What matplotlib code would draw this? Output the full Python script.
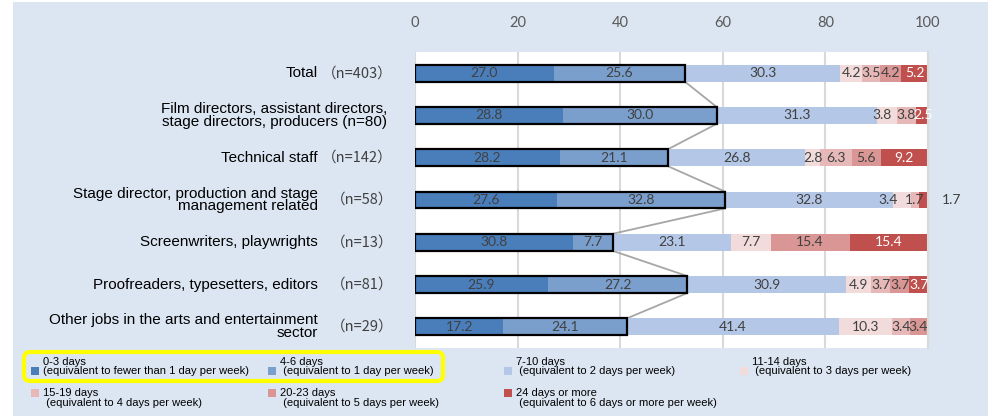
import matplotlib.pyplot as plt
from matplotlib.patches import Rectangle, FancyBboxPatch
from matplotlib.transforms import blended_transform_factory, IdentityTransform
import numpy as np

# Data (percentages per occupation group)
categories = [
    "Total",
    "Film directors, assistant directors,\nstage directors, producers (n=80)",
    "Technical staff",
    "Stage director, production and stage\nmanagement related",
    "Screenwriters, playwrights",
    "Proofreaders, typesetters, editors",
    "Other jobs in the arts and entertainment\nsector",
]
sample_sizes = ["（n=403）", "", "（n=142）", "（n=58）", "（n=13）", "（n=81）", "（n=29）"]

days_0_3 = [27.0, 28.8, 28.2, 27.6, 30.8, 25.9, 17.2]
days_4_6 = [25.6, 30.0, 21.1, 32.8, 7.7, 27.2, 24.1]
days_7_10 = [30.3, 31.3, 26.8, 32.8, 23.1, 30.9, 41.4]
days_11_14 = [4.2, 3.8, 2.8, 3.4, 7.7, 4.9, 10.3]
days_15_19 = [3.5, 3.8, 6.3, 1.7, 0.0, 3.7, 3.4]
days_20_23 = [4.2, 0.0, 5.6, 0.0, 15.4, 3.7, 3.4]
days_24_plus = [5.2, 2.5, 9.2, 1.7, 15.4, 3.7, 0.0]

series = [days_0_3, days_4_6, days_7_10, days_11_14, days_15_19, days_20_23, days_24_plus]
legend_labels = [
    "0-3 days\n(equivalent to fewer than 1 day per week)",
    "4-6 days\n (equivalent to 1 day per week)",
    "7-10 days\n (equivalent to 2 days per week)",
    "11-14 days\n (equivalent to 3 days per week)",
    "15-19 days\n (equivalent to 4 days per week)",
    "20-23 days\n (equivalent to 5 days per week)",
    "24 days or more\n (equivalent to 6 days or more per week)",
]
colors = ["#4A7EBB", "#7A9FCD", "#B4C7E7", "#F2DCDB", "#E6B9B8", "#D99694", "#C0504D"]
label_colors = ["#404040"] * 6 + ["white"]

# labels that were nudged by hand in the original (row, series) -> x shift
label_shift = {(3, 3): -2.6, (3, 6): 5.5, (1, 3): -1.0}

W, H = 988, 416
plt.rcParams['font.family'] = ['Liberation Sans Narrow', 'Liberation Sans', 'DejaVu Sans']

fig = plt.figure(figsize=(W / 100, H / 100), dpi=100, facecolor='white')
fig.patches.append(Rectangle((13 / W, 0), 1 - 13 / W, (H - 2) / H, transform=fig.transFigure,
                             facecolor='#DCE6F2', edgecolor='none', zorder=-10))

ax = fig.add_axes([415 / W, 1 - 348 / H, 513 / W, 296 / H])
ax.set_facecolor('white')

y = np.arange(len(categories))
bar_h = 0.4
left = np.zeros(len(categories))
for k, (vals, col, lc) in enumerate(zip(series, colors, label_colors)):
    vals = np.array(vals)
    ax.barh(y, vals, left=left, height=bar_h, color=col, zorder=2)
    for i, v in enumerate(vals):
        if v <= 0:
            continue
        xpos = left[i] + v / 2 + label_shift.get((i, k), 0)
        c = lc if xpos <= 100 else '#404040'
        ax.text(xpos, i, f"{v:.1f}", ha='center', va='center', fontsize=10,
                family=['Lato', 'DejaVu Sans'], color=c, zorder=4, clip_on=False)
    left = left + vals

# outline around 0-6 days and series lines
box_end = np.array(days_0_3) + np.array(days_4_6)
ax.barh(y, box_end, height=bar_h, fill=False, edgecolor='black', linewidth=1.6, zorder=3)
for i in range(len(categories) - 1):
    ax.plot([box_end[i], box_end[i + 1]], [i + bar_h / 2, i + 1 - bar_h / 2],
            color='#A6A6A6', lw=1.3, zorder=1)

ax.set_xlim(0, 100)
ax.set_ylim(len(categories) - 0.5, -0.5)
ax.set_xticks([0, 20, 40, 60, 80, 100])
ax.set_yticks([])
ax.xaxis.tick_top()
ax.tick_params(axis='x', length=0, pad=16, labelsize=10.5, labelcolor='#595959')
for t in ax.get_xticklabels():
    t.set_family(['Lato', 'DejaVu Sans'])
ax.grid(axis='x', color='#D9D9D9', lw=1.5)
ax.set_axisbelow(True)
for s in ['top', 'left', 'bottom']:
    ax.spines[s].set_visible(False)
ax.spines['right'].set_color('#D9D9D9')
ax.spines['right'].set_linewidth(1.5)

# category labels
trans = blended_transform_factory(fig.transFigure, ax.transData)
for i, (cat, n) in enumerate(zip(categories, sample_sizes)):
    if n:
        ax.text(318 / W, i, cat, transform=trans, ha='right', va='center', fontsize=11,
                multialignment='right', linespacing=0.9, clip_on=False)
        ax.text(393 / W, i, n, transform=trans, ha='right', va='center', fontsize=10.5,
                family=['Noto Sans CJK JP', 'DejaVu Sans'], color='#404040', clip_on=False)
    else:
        ax.text(387 / W, i, cat, transform=trans, ha='right', va='center', fontsize=11,
                multialignment='right', linespacing=0.9, clip_on=False)

# legend drawn by hand (4 columns, 2 rows)
col_x = [31, 268, 504, 740, 31, 268, 504]
row_text_y = [366.5, 366.5, 366.5, 366.5, 398, 398, 398]
row_sw_y = [371, 371, 371, 371, 393, 393, 393]
for lab, col, sx, ty, sy in zip(legend_labels, colors, col_x, row_text_y, row_sw_y):
    fig.patches.append(Rectangle((sx / W, 1 - (sy + 4) / H), 8 / W, 8 / H,
                                 transform=fig.transFigure, facecolor=col, edgecolor='none'))
    fig.text((sx + 12) / W, 1 - ty / H, lab, ha='left', va='center', fontsize=8,
             linespacing=0.95)

# yellow highlight around the first two legend entries
fig.patches.append(FancyBboxPatch((24, H - 381), 419, 29, boxstyle='round,pad=0,rounding_size=6',
                                  transform=IdentityTransform(), facecolor='none',
                                  edgecolor='#FFFF00', linewidth=3))

fig.savefig('out.png', dpi=100, facecolor=fig.get_facecolor())
